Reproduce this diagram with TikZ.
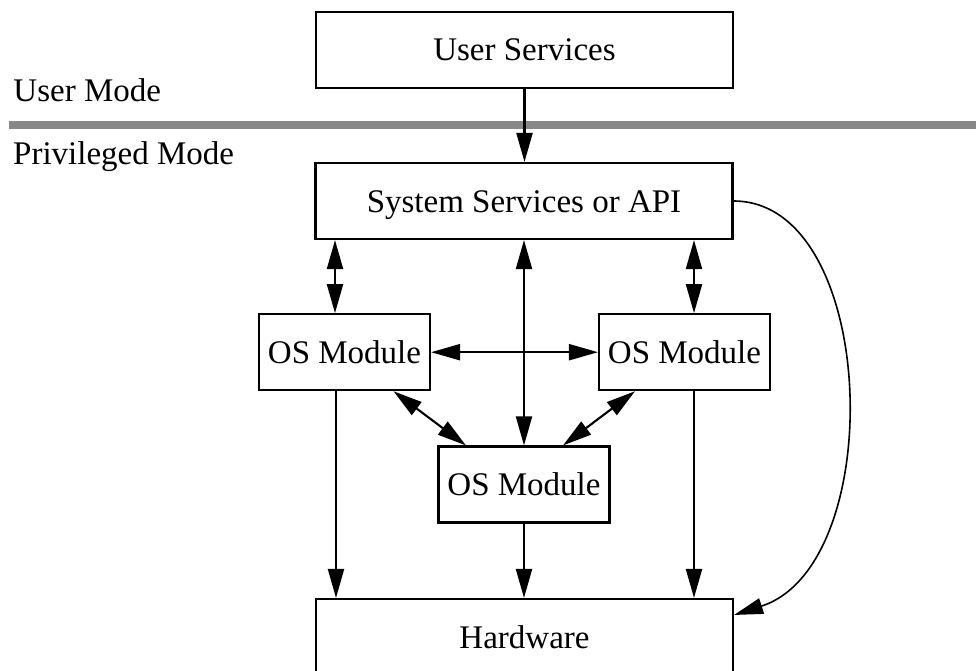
\documentclass[tikz,border=0pt]{standalone}
\usepackage{fontspec}
\setmainfont{Liberation Serif}
\usetikzlibrary{arrows.meta}
\definecolor{sepgray}{RGB}{136,136,136}
\tikzset{
  lbl/.style={font=\fontsize{33bp}{40bp}\selectfont},
  box/.style={lbl, draw, line width=2.1bp, inner sep=0pt, text height=22bp, text depth=0bp},
  bigbox/.style={box, minimum width=417bp, minimum height=76bp},
  osbox/.style={box, minimum width=171bp, minimum height=76bp},
  conn/.style={line width=2.1bp, -{Triangle[length=29bp,width=16bp]}},
  biconn/.style={line width=2.1bp, {Triangle[length=29bp,width=16bp]}-{Triangle[length=29bp,width=16bp]}},
  curveconn/.style={line width=1.6bp, -{Triangle[length=29bp,width=16bp]}},
  modelabel/.style={lbl, anchor=base west, inner sep=0pt},
}
\begin{document}
\begin{tikzpicture}[x=1bp,y=-1bp]
\useasboundingbox (0,0) rectangle (976,671);
% separator
\draw[sepgray, line width=8bp] (9.3,125.2) -- (976,125.2);
% labels
\node[modelabel] (um) at (13.3,101.7) {User Mode};
\node[modelabel] (pm) at (13,165) {Privileged Mode};
% boxes
\node[bigbox] (us) at (524.5,50) {User Services};
\node[bigbox] (sys) at (524,201) {System Services or API};
\node[osbox] (os1) at (344.5,352.2) {OS Module};
\node[osbox] (os2) at (684.5,352.2) {OS Module};
\node[osbox] (os3) at (524,484.5) {OS Module};
\node[bigbox] (hw) at (524.5,637) {Hardware};
% connectors
\draw[conn] (us.south) -- (us.south |- sys.north);
\draw[biconn] ([xshift=-9.5bp]os1.north |- sys.south) -- ([xshift=-9.5bp]os1.north);
\draw[biconn] (sys.south) -- (os3.north);
\draw[biconn] ([xshift=9.5bp]os2.north |- sys.south) -- ([xshift=9.5bp]os2.north);
\draw[biconn] (os1.east) -- (os2.west);
\draw[biconn] ([xshift=49bp]os1.south) -- ([xshift=-58bp]os3.north);
\draw[biconn] ([xshift=-49.5bp]os2.south) -- ([xshift=39bp]os3.north);
\draw[conn] ([xshift=-8.5bp]os1.south) -- ([xshift=-8.5bp]os1.south |- hw.north);
\draw[conn] (os3.south) -- (os3.south |- hw.north);
\draw[conn] ([xshift=9.5bp]os2.south) -- ([xshift=9.5bp]os2.south |- hw.north);
\draw[curveconn] (sys.east) .. controls +(145,0) and +(155,-50) .. ([yshift=-17bp]hw.north east);
\end{tikzpicture}
\end{document}
